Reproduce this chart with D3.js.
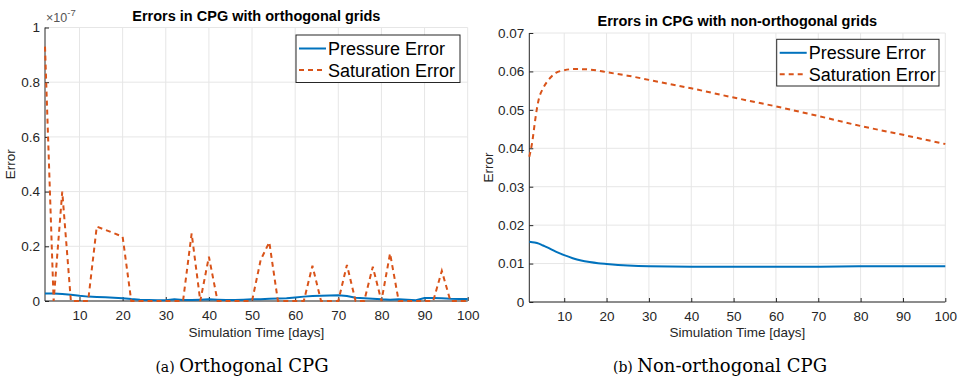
<!DOCTYPE html>
<html><head><meta charset="utf-8">
<script src="https://cdn.jsdelivr.net/npm/d3@7"></script>
<style>body{margin:0;background:#fff}svg{display:block}text{font-family:"Liberation Sans",Arial,Helvetica,sans-serif}</style>
</head><body>
<svg id="c" width="959" height="381"></svg>
<script>
// ---- Data ----
const tA = [2,4,6,8,10,12,14,16,18,20,22,24,26,28,30,32,34,36,38,40,42,44,46,48,50,52,54,56,58,60,62,64,66,68,70,72,74,76,78,80,82,84,86,88,90,92,94,96,98,100];
const pressureA = [0.027,0.027,0.026,0.023,0.019,0.016,0.015,0.014,0.012,0.010,0.007,0.005,0.004,0.003,0.003,0.006,0.004,0.004,0.005,0.006,0.005,0.004,0.004,0.005,0.006,0.006,0.008,0.009,0.010,0.013,0.016,0.018,0.019,0.020,0.021,0.018,0.012,0.010,0.008,0.006,0.005,0.006,0.005,0.003,0.011,0.011,0.010,0.008,0.007,0.007];
const saturationA = [0.93,0,0.40,0,0,0,0.272,0.260,0.248,0.235,0,0,0,0,0,0,0,0.247,0,0.162,0,0,0,0,0,0.15,0.215,0,0,0,0,0.129,0,0,0,0.132,0,0,0.125,0,0.174,0,0,0,0,0,0.11,0,0,0];

const tBp = [1.75,3,4,5,6,8,10,12,14,16,18,20,25,30,40,50,60,70,80,90,100];
const pressureB = [0.0157,0.0155,0.0152,0.0147,0.0142,0.0131,0.0122,0.0114,0.0108,0.0104,0.0101,0.0099,0.0095,0.0093,0.0092,0.0092,0.0092,0.0092,0.0093,0.0093,0.0093];
const tBs = [1.75,2.5,3,3.5,4,5,6,7,8,10,12,14,16,18,20,25,30,40,50,60,70,80,90,100];
const saturationB = [0.0378,0.0420,0.0462,0.0500,0.0528,0.0556,0.0574,0.0587,0.0596,0.0603,0.0606,0.0606,0.0605,0.0602,0.0598,0.0589,0.0578,0.0556,0.0532,0.0509,0.0484,0.0458,0.0435,0.0411];

const xTicks = [10,20,30,40,50,60,70,80,90,100];
const yTicksA = [0,0.2,0.4,0.6,0.8,1];
const yTicksB = [0,0.01,0.02,0.03,0.04,0.05,0.06,0.07];
const titles = ["Errors in CPG with orthogonal grids","Errors in CPG with non-orthogonal grids"];
const captionsTag = ["(a)","(b)"];
const captionsText = ["Orthogonal CPG","Non-orthogonal CPG"];
const legendLabels = ["Pressure Error","Saturation Error"];
const xLabel = "Simulation Time [days]";
const yLabel = "Error";

const BLUE = "#0072BD", ORANGE = "#D95319", AX = "#262626", GRID = "#e6e6e6";
const svg = d3.select("#c");

function panel(o){
  const g = svg.append("g");
  const x = d3.scaleLinear().domain(o.xdom).range([o.x0,o.x1]);
  const y = d3.scaleLinear().domain(o.ydom).range([o.y0,o.y1]);
  // grid
  g.selectAll(".gx").data(xTicks).join("line").attr("x1",d=>x(d)).attr("x2",d=>x(d))
    .attr("y1",o.y0).attr("y2",o.y1).attr("stroke",GRID).attr("stroke-width",1);
  g.selectAll(".gy").data(o.yTicks).join("line").attr("y1",d=>y(d)).attr("y2",d=>y(d))
    .attr("x1",o.x0).attr("x2",o.x1).attr("stroke",GRID).attr("stroke-width",1);
  // axes
  const xa = d3.axisBottom(x).tickValues(xTicks).tickSize(-4).tickPadding(9).tickFormat(d=>d);
  const gx = g.append("g").attr("transform",`translate(0,${o.y0})`).call(xa);
  const ya = d3.axisLeft(y).tickValues(o.yTicks).tickSize(-4).tickPadding(5).tickFormat(d=>String(+d.toFixed(2)));
  const gy = g.append("g").attr("transform",`translate(${o.x0},0)`).call(ya);
  [gx,gy].forEach(a=>{
    a.select(".domain").attr("stroke",AX).attr("stroke-width",1);
    a.selectAll(".tick line").attr("stroke",AX);
    a.selectAll("text").attr("fill",AX).style("font-size","13.5px").style("font-family","Liberation Sans, Arial, sans-serif");
  });
  gx.select(".domain").attr("d",`M${o.x0},0H${o.x1}`);
  gy.select(".domain").attr("d",`M0,${o.y0}V${o.y1}`);
  // lines
  const line = d3.line().x(d=>x(d[0])).y(d=>y(d[1])).curve(o.curve);
  g.append("path").datum(d3.zip(o.tp,o.p)).attr("d",line).attr("fill","none")
    .attr("stroke",BLUE).attr("stroke-width",2);
  g.append("path").datum(d3.zip(o.ts,o.s)).attr("d",line).attr("fill","none")
    .attr("stroke",ORANGE).attr("stroke-width",2).attr("stroke-dasharray","5,4");
  // title
  g.append("text").attr("x",(o.x0+o.x1)/2).attr("y",o.titleY).attr("text-anchor","middle")
    .style("font-weight","bold").style("font-size","14.5px").attr("fill","#000").text(o.title);
  // axis labels
  g.append("text").attr("x",(o.x0+o.x1)/2).attr("y",337).attr("text-anchor","middle")
    .style("font-size","13.5px").attr("fill",AX).text(xLabel);
  g.append("text").attr("transform",`translate(${o.ylx},${(o.y0+o.y1)/2}) rotate(-90)`)
    .attr("text-anchor","middle").style("font-size","13.5px").attr("fill",AX).text(yLabel);
  // legend
  const lg = g.append("g");
  lg.append("rect").attr("x",o.lx).attr("y",o.ly).attr("width",o.lw).attr("height",o.lh)
    .attr("fill","#fff").attr("stroke",AX).attr("stroke-width",1);
  [[BLUE,null],[ORANGE,"5,4"]].forEach((c,i)=>{
    const cy = o.ly + 13.5 + i*21.5;
    lg.append("line").attr("x1",o.lx+3).attr("x2",o.lx+30).attr("y1",cy).attr("y2",cy)
      .attr("stroke",c[0]).attr("stroke-width",2).attr("stroke-dasharray",c[1]);
    lg.append("text").attr("x",o.lx+32).attr("y",cy+6.5).style("font-size","18px").attr("fill","#000").text(legendLabels[i]);
  });
  // caption
  const cap = svg.append("text").attr("x",o.capX).attr("y",372).attr("text-anchor","middle")
    .style("font-family","DejaVu Serif, serif").attr("fill","#000");
  cap.append("tspan").style("font-size","14px").style("font-family","DejaVu Serif, serif").text(o.capTag+" ");
  cap.append("tspan").style("font-size","18px").style("font-family","DejaVu Serif, serif").text(o.capText);
  return {g,x,y};
}

const A = panel({xdom:[2,100],ydom:[0,1],x0:45,x1:467.7,y0:301,y1:27.5,yTicks:yTicksA,
  tp:tA,p:pressureA,ts:tA,s:saturationA,curve:d3.curveLinear,title:titles[0],titleY:21,ylx:15,
  lx:296,ly:35,lw:164,lh:47.5,capX:242,capTag:captionsTag[0],capText:captionsText[0]});
// exponent label
const ex = A.g.append("text").attr("x",46).attr("y",22).attr("fill","#555").style("font-size","12.5px");
ex.append("tspan").text("\u00d710");
ex.append("tspan").attr("dy",-6).style("font-size","9.5px").text("-7");

panel({xdom:[1.75,100],ydom:[0,0.07],x0:529.3,x1:945.3,y0:302,y1:33,yTicks:yTicksB,
  tp:tBp,p:pressureB,ts:tBs,s:saturationB,curve:d3.curveMonotoneX,title:titles[1],titleY:26,ylx:493,
  lx:776.7,ly:39.3,lw:162.3,lh:46.7,capX:720,capTag:captionsTag[1],capText:captionsText[1]});
</script>
</body></html>
